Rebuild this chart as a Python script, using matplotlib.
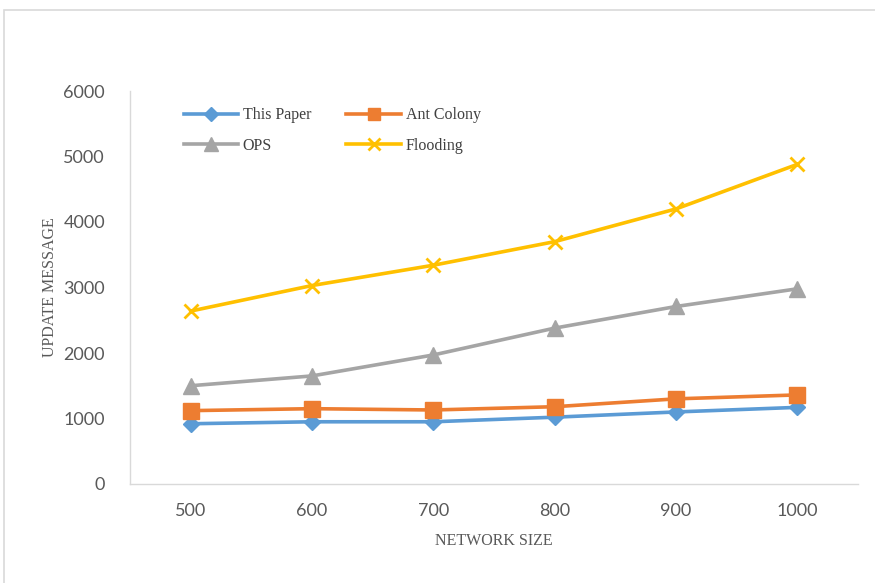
import numpy as np
import matplotlib.pyplot as plt
from matplotlib.patches import Rectangle

# data
network_size = ['500', '600', '700', '800', '900', '1000']
this_paper = [920, 950, 950, 1020, 1100, 1170]
ant_colony = [1120, 1150, 1130, 1180, 1300, 1360]
ops = [1500, 1650, 1970, 2380, 2710, 2980]
flooding = [2640, 3030, 3340, 3700, 4200, 4880]

fig = plt.figure(figsize=(8.75, 5.83), dpi=100)
ax = fig.add_axes([130/875, 1 - 484/583, 728/875, 393/583])

# outer chart border (clipped on the right and bottom like the reference)
fig.patches.append(Rectangle((4/875, -0.1), 1.2, 1 - 10/583 + 0.1,
                             transform=fig.transFigure, fill=False,
                             edgecolor='#d9d9d9', lw=1.2))

x = np.arange(len(network_size))
l1, = ax.plot(x, this_paper, color='#5B9BD5', lw=2.6, marker='D', ms=8.5, label='This Paper')
l2, = ax.plot(x, ant_colony, color='#ED7D31', lw=2.6, marker='s', ms=11, label='Ant Colony')
l3, = ax.plot(x, ops, color='#A5A5A5', lw=2.6, marker='^', ms=12, label='OPS')
l4, = ax.plot(x, flooding, color='#FFC000', lw=2.6, marker='x', ms=10, mew=2, label='Flooding')

ax.set_xlim(-0.5, 5.5)
ax.set_ylim(0, 6000)
ax.set_xticks(x)
ax.set_xticklabels(network_size)
ax.set_yticks(np.arange(0, 6001, 1000))

for s in ['top', 'right']:
    ax.spines[s].set_visible(False)
for s in ['left', 'bottom']:
    ax.spines[s].set_color('#d9d9d9')
    ax.spines[s].set_linewidth(1.0)
ax.tick_params(length=0, labelcolor='#595959', labelsize=13)
ax.tick_params(axis='x', pad=14)
ax.tick_params(axis='y', pad=18)
for t in ax.get_xticklabels() + ax.get_yticklabels():
    t.set_family('Lato')

ax.set_xlabel('NETWORK SIZE', family='Liberation Serif', fontsize=11.5,
              color='#595959', labelpad=10)
ax.set_ylabel('UPDATE MESSAGE', family='Liberation Serif', fontsize=11.5,
              color='#595959', labelpad=4)

# row-wise order like the reference legend
leg = ax.legend([l1, l3, l2, l4], ['This Paper', 'OPS', 'Ant Colony', 'Flooding'],
                loc='upper left', bbox_to_anchor=(0.065, 0.975), ncol=2,
                frameon=False, handlelength=3.4, columnspacing=2.2,
                handletextpad=0.3, labelspacing=0.9, borderaxespad=0,
                markerscale=0.8,
                prop={'family': 'Liberation Serif', 'size': 11.5})
for t in leg.get_texts():
    t.set_color('#404040')

fig.savefig('out.png', dpi=100)
